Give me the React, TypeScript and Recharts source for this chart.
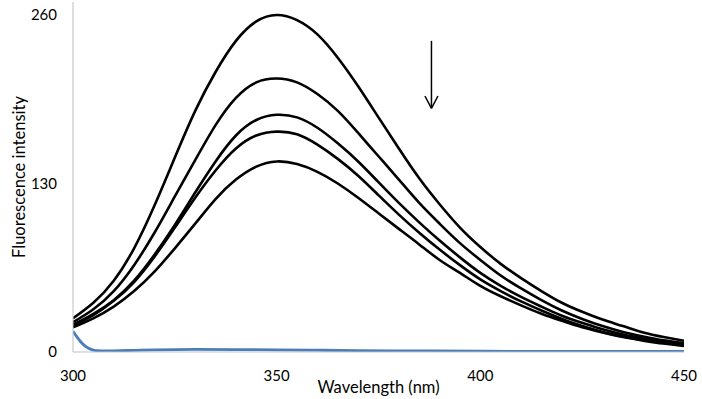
import { LineChart, Line, XAxis, YAxis, ReferenceLine } from "recharts";

// emission wavelengths (nm), 5 nm steps
const wavelengths = [
  300, 305, 310, 315, 320, 325, 330, 335, 340, 345, 350, 355, 360, 365, 370, 375,
  380, 385, 390, 395, 400, 405, 410, 415, 420, 425, 430, 435, 440, 445, 450,
];

// fluorescence intensity, highest to lowest concentration of quencher
const curve1 = [
  26, 38, 55, 80, 113, 150, 186, 216, 240, 255, 260, 256, 245, 227, 205, 181,
  157, 134, 114, 96, 81, 68, 57, 47, 38, 31, 25, 20, 15, 11.5, 8.7,
];
const curve2 = [
  23, 33, 47, 67, 92, 120, 148, 175, 196, 208, 211, 208, 199, 186, 169, 151,
  133, 115, 99, 84, 71, 59, 49, 40, 32, 25.5, 20, 15.5, 12, 9, 6.8,
];
const curve3 = [
  21, 29.5, 40, 55, 75, 98, 123, 147, 167, 179, 183, 181, 173, 161, 147, 131,
  115, 100, 86, 73, 61, 51, 42.5, 35, 28, 22.5, 17.5, 13.5, 10.5, 8, 6,
];
const curve4 = [
  20.5, 28.5, 39.5, 54, 73.5, 96, 119, 140, 157, 167, 170, 168, 160, 149, 136, 121,
  106, 92, 79, 67, 56, 47, 39, 32, 25.5, 20, 15.5, 12, 9.2, 7, 5.2,
];
const curve5 = [
  19, 26, 35, 47, 62, 80, 99, 118, 133, 143, 147, 145, 139, 130, 119, 107,
  95, 83, 71, 61, 51, 43, 36, 29.5, 24, 19, 15, 11.5, 8.8, 6.5, 4.7,
];

// quencher alone (blank)
const blankWl = [
  300, 301, 302, 303, 304, 305, 306, 308, 310, 315, 320, 330, 340, 350, 360, 370,
  380, 400, 420, 450,
];
const blankVal = [
  16, 11.5, 7.5, 4.5, 2.6, 1.5, 1.0, 0.8, 0.9, 1.3, 1.7, 2.0, 1.9, 1.7, 1.4, 1.1,
  0.9, 0.6, 0.5, 0.4,
];

const xTicks = [300, 350, 400, 450];
const yTicks = [0, 130, 260];

const seriesKeys = ["c1", "c2", "c3", "c4", "c5"];
const seriesValues = [curve1, curve2, curve3, curve4, curve5];

const data = wavelengths.map((wl, i) => {
  const row: Record<string, number> = { wl };
  seriesKeys.forEach((k, j) => {
    row[k] = seriesValues[j][i];
  });
  return row;
});

const blankData = blankWl.map((wl, i) => ({ wl, blank: blankVal[i] }));

const font = "Lato, 'Open Sans', sans-serif";
const axisColor = "#bfbfbf";

export default function App() {
  return (
    <div style={{ position: "absolute", left: 0, top: 0, background: "#fff" }}>
      <LineChart
        width={702}
        height={399}
        data={data}
        margin={{ top: 2, right: 18, left: 0, bottom: 0 }}
        style={{ fontFamily: font }}
      >
        <XAxis
          dataKey="wl"
          type="number"
          domain={[300, 450]}
          ticks={xTicks}
          allowDataOverflow
          tickLine={false}
          tickMargin={12}
          height={47}
          stroke={axisColor}
          tick={{ fill: "#000", fontSize: 15, fontFamily: font }}
          label={{
            value: "Wavelength (nm)",
            position: "insideBottom",
            offset: 6,
            fill: "#000",
            fontSize: 16.5,
            fontFamily: font,
          }}
        />
        <YAxis
          type="number"
          domain={[0, 270]}
          ticks={yTicks}
          allowDataOverflow
          tickLine={false}
          tickMargin={10}
          width={73}
          stroke={axisColor}
          tick={{ fill: "#000", fontSize: 15, fontFamily: font }}
          label={{
            value: "Fluorescence intensity",
            angle: -90,
            position: "insideLeft",
            offset: 19,
            fill: "#000",
            fontSize: 16.5,
            fontFamily: font,
            style: { textAnchor: "middle" },
          }}
        />
        <Line
          data={blankData}
          dataKey="blank"
          type="monotone"
          stroke="#4a7ebb"
          strokeWidth={2.8}
          dot={false}
          isAnimationActive={false}
        />
        {seriesKeys.map((k) => (
          <Line
            key={k}
            dataKey={k}
            type="natural"
            stroke="#000"
            strokeWidth={2.6}
            dot={false}
            isAnimationActive={false}
          />
        ))}
        {/* arrow showing the decrease */}
        <ReferenceLine
          segment={[
            { x: 388, y: 240 },
            { x: 388, y: 188 },
          ]}
          stroke="#000"
          strokeWidth={1.5}
        />
        <ReferenceLine
          segment={[
            { x: 386.4, y: 197.5 },
            { x: 388, y: 188 },
          ]}
          stroke="#000"
          strokeWidth={1.5}
        />
        <ReferenceLine
          segment={[
            { x: 389.6, y: 197.5 },
            { x: 388, y: 188 },
          ]}
          stroke="#000"
          strokeWidth={1.5}
        />
      </LineChart>
    </div>
  );
}
